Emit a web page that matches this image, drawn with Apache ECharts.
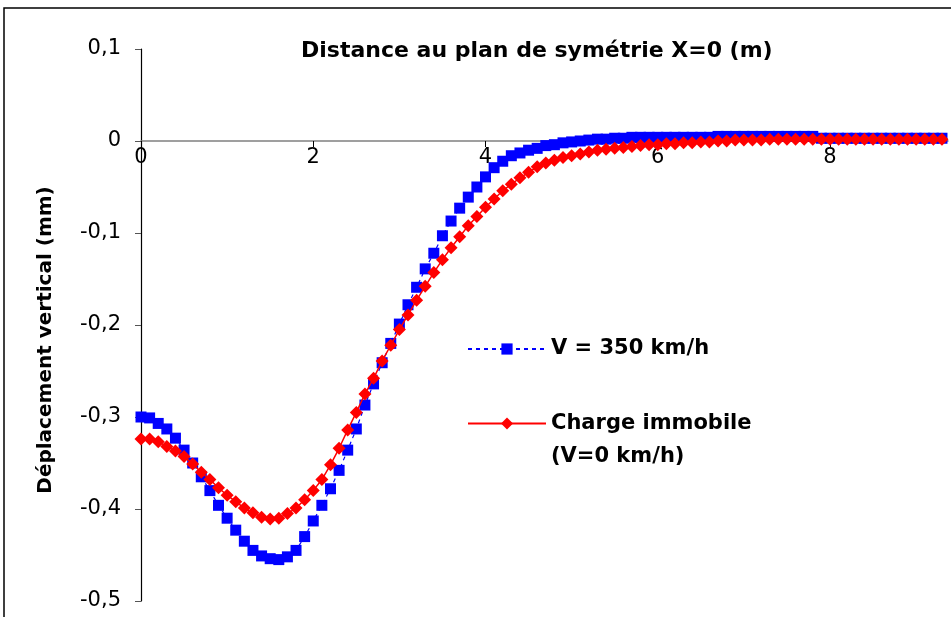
<!DOCTYPE html>
<html>
<head>
<meta charset="utf-8">
<script src="https://cdn.jsdelivr.net/npm/echarts@6/dist/echarts.min.js"></script>
<style>
html,body{margin:0;padding:0;background:#fff;}
#chart{width:951px;height:617px;}
</style>
</head>
<body>
<div id="chart"></div>
<script>
// Distance au plan de symétrie X=0 (m)
var distances = [
  0.0,0.1,0.2,0.3,0.4,0.5,0.6,0.7,0.8,0.9,
  1.0,1.1,1.2,1.3,1.4,1.5,1.6,1.7,1.8,1.9,
  2.0,2.1,2.2,2.3,2.4,2.5,2.6,2.7,2.8,2.9,
  3.0,3.1,3.2,3.3,3.4,3.5,3.6,3.7,3.8,3.9,
  4.0,4.1,4.2,4.3,4.4,4.5,4.6,4.7,4.8,4.9,
  5.0,5.1,5.2,5.3,5.4,5.5,5.6,5.7,5.8,5.9,
  6.0,6.1,6.2,6.3,6.4,6.5,6.6,6.7,6.8,6.9,
  7.0,7.1,7.2,7.3,7.4,7.5,7.6,7.7,7.8,7.9,
  8.0,8.1,8.2,8.3,8.4,8.5,8.6,8.7,8.8,8.9,
  9.0,9.1,9.2,9.3
];
// V = 350 km/h (mm)
var v350 = [
  -0.300,-0.301,-0.307,-0.313,-0.323,-0.336,-0.350,-0.365,-0.380,-0.396,
  -0.410,-0.423,-0.435,-0.445,-0.451,-0.454,-0.455,-0.452,-0.445,-0.430,
  -0.413,-0.396,-0.378,-0.358,-0.336,-0.313,-0.287,-0.264,-0.241,-0.220,
  -0.199,-0.178,-0.159,-0.139,-0.122,-0.103,-0.087,-0.073,-0.061,-0.050,
  -0.039,-0.029,-0.022,-0.016,-0.013,-0.010,-0.008,-0.005,-0.004,-0.002,
  -0.001,0.000,0.001,0.002,0.002,0.003,0.003,0.004,0.004,0.004,
  0.004,0.004,0.004,0.004,0.004,0.004,0.004,0.005,0.005,0.005,
  0.005,0.005,0.005,0.005,0.005,0.005,0.005,0.005,0.005,0.003,
  0.003,0.003,0.003,0.003,0.003,0.003,0.003,0.003,0.003,0.003,
  0.003,0.003,0.003,0.003
];
// Charge immobile (V=0 km/h) (mm)
var v0 = [
  -0.324,-0.324,-0.327,-0.332,-0.337,-0.343,-0.351,-0.360,-0.368,-0.377,
  -0.385,-0.392,-0.399,-0.404,-0.409,-0.411,-0.410,-0.405,-0.399,-0.390,
  -0.380,-0.368,-0.352,-0.334,-0.314,-0.295,-0.275,-0.258,-0.239,-0.222,
  -0.205,-0.189,-0.173,-0.158,-0.143,-0.129,-0.116,-0.104,-0.092,-0.082,
  -0.072,-0.063,-0.054,-0.047,-0.040,-0.034,-0.028,-0.024,-0.021,-0.018,
  -0.016,-0.014,-0.012,-0.010,-0.009,-0.008,-0.007,-0.006,-0.005,-0.004,
  -0.004,-0.003,-0.003,-0.002,-0.002,-0.001,-0.001,0.000,0.000,0.001,
  0.001,0.001,0.001,0.002,0.002,0.002,0.002,0.002,0.002,0.002,
  0.002,0.002,0.002,0.002,0.002,0.002,0.002,0.002,0.002,0.002,
  0.002,0.002,0.002,0.002
];
var xTicks = [0, 2, 4, 6, 8];
var yTicks = [-0.5, -0.4, -0.3, -0.2, -0.1, 0, 0.1];
var seriesNames = ['V = 350 km/h', 'Charge immobile (V=0 km/h)'];
var titleText = 'Distance au plan de symétrie X=0 (m)';
var yTitleText = 'Déplacement vertical (mm)';

function pairs(xs, ys) {
  var out = [];
  for (var i = 0; i < ys.length; i++) out.push([xs[i], ys[i]]);
  return out;
}

var GRID_TOP = 49, GRID_BOTTOM = 16, H = 617;
var Y_MIN = yTicks[0], Y_MAX = yTicks[yTicks.length - 1];
var plotH = H - GRID_TOP - GRID_BOTTOM;
// distance (px) from grid bottom up to the y = 0 line, so the x axis sits on zero
var zeroOffset = plotH * (0 - Y_MIN) / (Y_MAX - Y_MIN);

var chart = echarts.init(document.getElementById('chart'), null, {renderer: 'canvas'});
var FONT = 'DejaVu Sans';
var option = {
  animation: false,
  backgroundColor: '#fff',
  title: {
    text: titleText,
    left: 301, top: 40, padding: 0,
    textStyle: {fontFamily: FONT, fontWeight: 'bold', fontSize: 22, color: '#000'}
  },
  grid: {left: 141, right: 3, top: GRID_TOP, bottom: GRID_BOTTOM, containLabel: false, outerBoundsMode: 'none'},
  xAxis: {
    type: 'value', min: 0, max: 9.37, interval: 2,
    position: 'bottom', offset: -zeroOffset,
    axisLine: {onZero: false, lineStyle: {color: '#808080', width: 1.5}},
    axisTick: {show: true, length: 6, lineStyle: {color: '#000'}},
    axisLabel: {
      margin: 6, color: '#000', fontFamily: FONT, fontSize: 21,
      showMaxLabel: false,
      formatter: function (v) { return xTicks.indexOf(v) >= 0 ? String(v) : ''; }
    },
    splitLine: {show: false}
  },
  yAxis: {
    type: 'value', min: Y_MIN, max: Y_MAX, interval: 0.1,
    axisLine: {show: true, lineStyle: {color: '#000', width: 1.2}},
    axisTick: {show: true, length: 6, lineStyle: {color: '#555'}},
    axisLabel: {
      margin: 20, color: '#000', fontFamily: FONT, fontSize: 21,
      formatter: function (v) {
        var r = Math.round(v * 10) / 10;
        if (r === 0) return '0';
        return r.toFixed(1).replace('.', ',');
      }
    },
    splitLine: {show: false}
  },
  legend: [
    {
      data: [seriesNames[0]], left: 467, top: 336, padding: 0,
      orient: 'vertical', itemWidth: 78, itemHeight: 14, itemGap: 0,
      selectedMode: false,
      textStyle: {fontFamily: FONT, fontWeight: 'bold', fontSize: 21, color: '#000', lineHeight: 26}
    },
    {
      data: [seriesNames[1]], left: 467, top: 374, padding: 0,
      orient: 'vertical', itemWidth: 78, itemHeight: 15, itemGap: 0,
      selectedMode: false,
      formatter: function () { return '\nCharge immobile\n(V=0 km/h)'; },
      textStyle: {fontFamily: FONT, fontWeight: 'bold', fontSize: 21, color: '#000', lineHeight: 33}
    }
  ],
  graphic: [
    {
      type: 'rect', silent: true,
      shape: {x: 4, y: 8, width: 1000, height: 700},
      style: {fill: 'none', stroke: '#000', lineWidth: 1.5}
    },
    {
      type: 'text', x: 46, y: 340, rotation: Math.PI / 2,
      style: {text: yTitleText, font: 'bold 20px "DejaVu Sans"', fill: '#000', align: 'center', verticalAlign: 'middle'}
    }
  ],
  series: [
    {
      name: seriesNames[0], type: 'line',
      data: pairs(distances, v350),
      symbol: 'rect', symbolSize: 11,
      itemStyle: {color: '#0000ff'},
      lineStyle: {color: '#0000ff', width: 1.2, type: [4, 4]},
      z: 2
    },
    {
      name: seriesNames[1], type: 'line',
      data: pairs(distances, v0),
      symbol: 'diamond', symbolSize: 13,
      itemStyle: {color: '#ff0000'},
      lineStyle: {color: '#ff0000', width: 1.5},
      z: 3
    }
  ]
};
chart.setOption(option);
</script>
</body>
</html>
